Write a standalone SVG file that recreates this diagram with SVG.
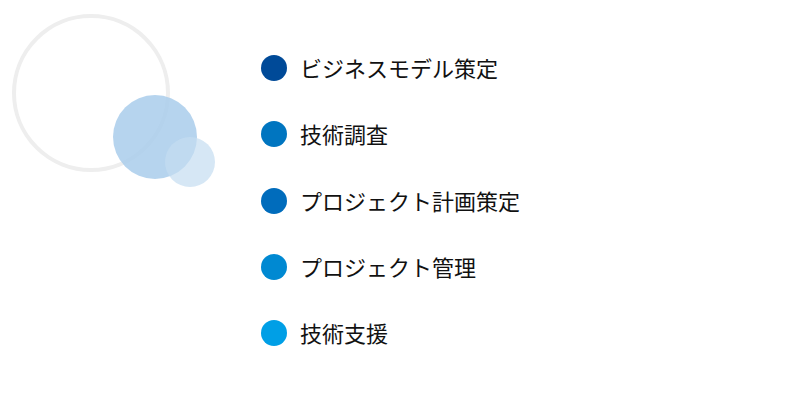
<svg xmlns="http://www.w3.org/2000/svg" width="800" height="400" viewBox="0 0 800 400">
<style>
text{font-family:"Noto Sans CJK JP","Noto Sans",sans-serif;font-size:22px;fill:#111}
</style>
<rect width="800" height="400" fill="#fff"/>
<g id="decor">
<circle cx="91" cy="93" r="77" fill="none" stroke="#eeeeee" stroke-width="4"/>
<circle cx="155" cy="137" r="42" fill="#a9cdeb" fill-opacity="0.85"/>
<circle cx="190" cy="162" r="25" fill="#c4ddf1" fill-opacity="0.7"/>
</g>
<g id="item1"><circle cx="274" cy="68" r="13" fill="#004a98"/><text x="300" y="77">ビジネスモデル策定</text></g>
<g id="item2"><circle cx="274" cy="134" r="13" fill="#0075c0"/><text x="300" y="143">技術調査</text></g>
<g id="item3"><circle cx="274" cy="201" r="13" fill="#006cbc"/><text x="300" y="210">プロジェクト計画策定</text></g>
<g id="item4"><circle cx="274" cy="267" r="13" fill="#0089d2"/><text x="300" y="276">プロジェクト管理</text></g>
<g id="item5"><circle cx="274" cy="333" r="13" fill="#009fe6"/><text x="300" y="342">技術支援</text></g>
<g id="connectors"/>
</svg>
